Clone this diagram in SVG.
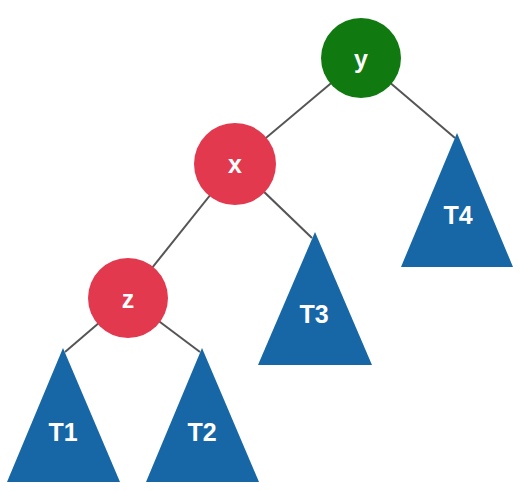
<svg xmlns="http://www.w3.org/2000/svg" width="522" height="491" viewBox="0 0 522 491">
<style>
.edge{stroke:#555;stroke-width:2;fill:none}
.red{fill:#e2394f}
.green{fill:#107a10}
.tri{fill:#1766a6}
.lbl{fill:#fff;font-family:"Liberation Sans",Arial,sans-serif;font-weight:bold;font-size:25px;text-anchor:middle}
</style>
<rect width="522" height="491" fill="#fff"/>
<g id="connectors">
<line class="edge" x1="361" y1="58" x2="235" y2="164"/>
<line class="edge" x1="361" y1="58" x2="455" y2="138"/>
<line class="edge" x1="235" y1="164" x2="128" y2="298"/>
<line class="edge" x1="235" y1="164" x2="312" y2="238"/>
<line class="edge" x1="128" y1="298" x2="65" y2="352"/>
<line class="edge" x1="128" y1="298" x2="200" y2="352"/>
</g>
<g id="node-y"><circle class="green" cx="361" cy="58" r="40"/><text class="lbl" x="361" y="68">y</text></g>
<g id="node-x"><circle class="red" cx="235" cy="164" r="41"/><text class="lbl" x="235" y="173">x</text></g>
<g id="node-z"><circle class="red" cx="128" cy="298" r="40"/><text class="lbl" x="128" y="308">z</text></g>
<g id="node-T4"><polygon class="tri" points="457,133 513,267 401,267"/><text class="lbl" x="458" y="224">T4</text></g>
<g id="node-T3"><polygon class="tri" points="315,232 372,365 258,365"/><text class="lbl" x="314" y="323">T3</text></g>
<g id="node-T1"><polygon class="tri" points="63,348 120,482 7,482"/><text class="lbl" x="63" y="441">T1</text></g>
<g id="node-T2"><polygon class="tri" points="202,348 259,482 146,482"/><text class="lbl" x="202" y="441">T2</text></g>
</svg>
